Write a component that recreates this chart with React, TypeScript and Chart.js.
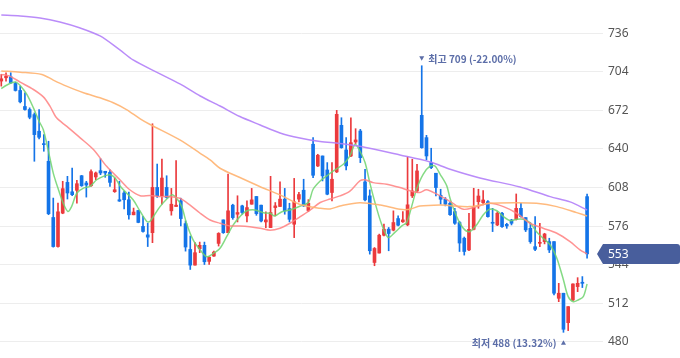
import React, { useEffect, useRef } from "react";
import { Chart, registerables } from "chart.js";
Chart.register(...registerables);

// OHLC per trading day (index 0..124)
const opens = [696.3,699,699.8,694.3,688.5,675.2,672.7,668.5,654.7,644.4,629.8,583.2,559.1,586.8,612.3,604.5,605.7,617.8,611.8,609.5,616.8,622,621.5,620.6,604.6,597.9,603.5,597.9,585.4,589,575.8,568.8,570.6,608.1,601.2,608.1,588.7,592.3,597,578.1,556.7,543.7,557.3,560.1,546.8,551.2,561.7,581.2,570.6,593.4,585.9,592.8,584.5,594.2,600.6,593.4,579.5,574.8,591.4,592.3,598.4,590.6,577.6,598.4,605.8,589,643.9,625.9,634.2,622.6,603.9,621,659.6,639.2,634.2,645.8,654.9,612.7,601.1,545.9,553.7,568.5,573.5,572.7,582.3,579.6,577.1,601.1,605.2,667.9,649.4,628.7,619.9,601.6,598.3,595,588.1,579,566,556.3,573.4,596.3,595.5,596.3,579,577,586.7,577.5,581.1,581.7,590.8,583.1,574.2,559,561.8,563.2,563.2,563.2,516.2,520.4,496,514.8,525.9,529.5,600.5];
const highs = [701.8,703.2,703.2,695.4,692.1,686.6,674.1,669.9,672.7,651.9,646.4,599.3,595.1,613.2,617.3,624.2,614,618.1,613.2,622.8,620.9,632,621.5,622.8,615.9,613.2,604.8,604.3,591,589.2,584.1,578.5,660.9,627.5,631.7,617.8,607.3,630.3,599.2,580.3,567.8,562.3,562.8,562.8,550.6,555.3,570.6,581.2,619.2,594.2,601.2,593.4,597,607.3,600.6,593.4,587.8,617.3,595.6,612.8,607.3,595,615.6,604,614.9,598,649.4,635.6,634.2,628.7,628.7,672,665.9,649.4,665.9,656.8,656.3,623.2,606.1,558.3,569.4,577.7,574.9,588.7,584.5,588.1,633.4,631.4,627.3,709,651.3,640.6,619.9,606.6,599.7,596,590.8,580,567,586.7,607.4,606.6,605.5,597.2,590.8,588,587.5,578.4,581.7,602.7,594.9,583.1,578.9,583.9,578.4,570.1,566,563.2,528.6,520.4,509.3,528.1,533.3,534.2,602.7];
const lows = [692.1,696.2,694.3,688,678.2,672.2,665,629.8,648.3,638.1,585.5,558.6,558.6,586.3,598.5,601.2,595.1,609,600.1,609,614.5,618.7,616.5,609,604,596.5,590.2,581.8,585.4,578.8,571,559.1,562.3,599.8,594.2,599.2,585.1,592.3,576.2,555.3,540.1,543.7,554,544.2,544.2,551,559.5,570,570.6,581.7,579.5,585.9,579.5,594.2,585,579.5,574.8,574.8,584.5,592.3,585.9,579.5,566.5,596,592.3,588,616.3,625.4,613.5,602,597,620.4,640.6,622.6,633.7,644.4,628.7,597,552.8,543.2,553.7,568,555.6,572.1,576.3,579,576.3,599.7,603.9,640.6,630.9,623.7,601.1,594.2,592.8,585,577.5,555,552,555.7,572.9,590.8,593.6,583.4,571.5,576.4,575,574.2,577,581.1,583.4,571.5,561.8,555.7,559,561.3,554.1,519,513.4,488,489.4,514.3,521.7,525.1,549.4];
const closes = [698.2,700.4,694.9,688.5,679.1,672.7,666.3,651.9,649.7,643.6,586.3,559.1,587.9,607.1,603.5,602.1,611.2,609.5,610.1,621.2,620.1,620.1,620.1,612.3,606.2,596.8,597.9,585.4,587.7,579.1,571.6,566.9,608.1,601.2,615.9,599.8,594.2,593.4,582.3,558.7,543.7,554,560.1,546.5,550.3,554.5,570,570.6,588.7,583.1,587.3,587.3,591.4,597.8,586.4,580.3,581.2,587.3,592.8,598.4,588.7,581.7,596.2,602.2,592.8,595,618.2,634.8,617.7,602.5,614.9,668.7,641.1,626,645.2,647.5,632.8,597.8,555.6,557.5,568.5,573.5,569.9,579,576.8,581.2,593.7,605.2,621.8,641.1,634.2,624.6,608,598.3,594.2,585.5,578.4,562,555,573.4,591.6,601,597.7,583.9,578.4,586.7,575.6,576.2,578.4,590.8,583.9,572.9,563.2,556.8,562.4,569.5,556.3,520.4,520.4,490.5,509.3,528.1,528.6,528.6,553];

// Moving averages: [day index, value]
const ma5 = [[0,690],[1,692.6],[2.2,694.9],[3.1,695.4],[4,692.6],[5.4,685.2],[6.8,674.1],[8,663],[8.9,656],[9.9,639.5],[11,620],[12.1,606.2],[13.1,595.1],[14.1,588.2],[14.9,592.4],[16,603.5],[17.4,607.6],[18.8,609],[20.2,614.5],[21.6,617.3],[23,618.7],[24.1,616],[25.1,609.5],[26.5,603.5],[27.9,597.9],[29.4,588.2],[30.8,579.9],[31.5,580],[33.6,592.2],[36.1,601.9],[37.1,599.1],[38.2,592.2],[39.2,578.4],[40.6,564.6],[42.1,556.3],[43.5,550.7],[44.9,553.5],[46.3,557.7],[47.7,567.3],[49.1,577],[50.5,583.9],[51.9,588.6],[53.7,589.4],[55.5,587.2],[56.9,586.7],[57.9,584.5],[59.4,588],[61.1,589.4],[63.2,592.5],[65,595.6],[66,606.6],[67.5,613.5],[68.9,617.7],[70.3,621.8],[72.4,627.3],[73.8,634.2],[74.9,643.9],[75.9,638.3],[77,628.7],[78,612.1],[79.1,595.6],[80.5,577.7],[81.9,566.6],[83.3,570.8],[84.8,576.3],[85.8,579],[86.9,592.8],[87.9,606.6],[89.3,619],[90.8,625.9],[91.8,625.9],[92.9,619],[94.3,609.4],[95,599],[96.4,583.9],[97.8,574.3],[99.1,571.4],[100.6,577],[102,585.3],[103.4,590],[104.9,588.8],[106.3,583.9],[107.7,580.6],[109.1,581.7],[110.5,581.7],[111.9,578.9],[113.3,571.4],[114.7,566],[116.2,560.4],[117.6,549.4],[119,531.4],[120,517.6],[121.1,513.4],[122.1,514.8],[123.2,517.6],[124,528]];
const ma20 = [[0,701.8],[1.8,700.4],[4,695.4],[6.8,689.3],[8.9,683.2],[10.3,675.5],[11.7,665.8],[13.8,658.9],[16.7,649.2],[19.5,639.5],[22.3,625.6],[25.1,614.5],[27.2,606.2],[29.4,601.2],[31.5,601.5],[33.6,600.5],[35.7,600.5],[37.8,599.1],[39.9,593.6],[42.1,586.7],[44.2,581.1],[46.3,578.4],[48.4,576.2],[50.5,576.2],[52.6,575.6],[54.8,574.3],[56.9,572.6],[59,574.3],[61.1,578.4],[63.2,583.6],[65.4,589.4],[67.5,595.6],[69.6,598.5],[71.7,601.1],[73.8,605],[75.9,613.5],[77,614.4],[78.7,612.1],[81.6,610.8],[84.4,608],[86.5,605.3],[88.6,603.9],[90,606.1],[92.2,602.5],[95,596.5],[97.8,590],[100.6,592.2],[103.4,595],[106.3,592.2],[109.1,586.7],[111.9,578.4],[114.7,574.3],[117.6,570.1],[120.4,563.1],[122.5,556.3],[124,553]];
const ma60 = [[0,704.6],[4,703.7],[8.6,701.8],[11,697.1],[13.8,692.1],[17.4,686.6],[20.9,682.4],[23.7,678.3],[26.5,672.7],[29.4,665],[31.5,660.3],[37.8,647.5],[42.1,636.4],[44.2,630.9],[46.3,624],[50.5,616.3],[54.8,608.7],[59,601.9],[63.2,594],[67.5,590.8],[69.6,590.3],[71.7,592.7],[75.9,595.5],[80.2,593.6],[84.4,590],[86.5,590],[88.6,592.7],[92.9,593.6],[95,593],[99.2,592.2],[103.4,595],[109.1,595.5],[113.3,595],[117.6,592.2],[121.8,587.2],[124,584.5]];
const ma120 = [[0,751.1],[4,750.3],[8.2,748.6],[12.4,745.3],[16.7,740.3],[20.9,733.7],[25.1,722.1],[27.9,713.8],[33.6,702.2],[37.8,693.9],[42.1,683.9],[46.3,675.6],[50.5,666.9],[54.8,659.9],[59,653.3],[63.2,649.1],[67.5,646.1],[71.7,644.6],[75.9,642.2],[84.4,635],[90.8,629.2],[95,623.2],[101.3,616],[109.8,608.5],[116.2,600.5],[120.4,596.1],[124,589.4]];

const yTicks = [480, 512, 544, 576, 608, 640, 672, 704, 736];
const highIndex = 89;
const highValue = 709;
const highLabel = "최고 709 (-22.00%)";
const lowIndex = 119;
const lowValue = 488;
const lowLabel = "최저 488 (13.32%)";
const lastPrice = 553;

const UP = "#eb3a3d";
const DOWN = "#1474e8";

export default function App() {
  const ref = useRef<HTMLCanvasElement | null>(null);
  useEffect(() => {
    if (!ref.current) return;
    const idx = opens.map((_, i) => i);
    const colors = idx.map((i) => (closes[i] >= opens[i] ? UP : DOWN));
    const line = (pts: number[][], color: string) => ({
      type: "line" as const,
      data: pts.map((p) => ({ x: p[0], y: p[1] })),
      borderColor: color,
      borderWidth: 1.5,
      pointRadius: 0,
      tension: 0.3,
      order: 0,
    });
    const annot = {
      id: "annot",
      afterDraw(chart: any) {
        const ctx = chart.ctx as CanvasRenderingContext2D;
        const xs = chart.scales.x;
        const ys = chart.scales.y;
        ctx.save();
        ctx.fillStyle = "#5c6ea8";
        ctx.font = '600 10px "Noto Sans CJK KR"';
        ctx.textBaseline = "middle";
        // high
        const hx = xs.getPixelForValue(highIndex);
        const hy = ys.getPixelForValue(highValue) - 6.5;
        ctx.beginPath();
        ctx.moveTo(hx - 2.5, hy - 3);
        ctx.lineTo(hx + 2.5, hy - 3);
        ctx.lineTo(hx, hy + 1.5);
        ctx.closePath();
        ctx.fill();
        ctx.textAlign = "left";
        ctx.fillText(highLabel, hx + 6.5, hy);
        // low
        const lx = xs.getPixelForValue(lowIndex);
        const ly = ys.getPixelForValue(lowValue) + 11;
        ctx.beginPath();
        ctx.moveTo(lx - 2.5, ly + 1.5);
        ctx.lineTo(lx + 2.5, ly + 1.5);
        ctx.lineTo(lx, ly - 3);
        ctx.closePath();
        ctx.fill();
        ctx.textAlign = "right";
        ctx.fillText(lowLabel, lx - 7, ly);
        // price tag
        const py = ys.getPixelForValue(lastPrice);
        const left = chart.chartArea.right - 6;
        const bodyL = chart.chartArea.right;
        const R = chart.width;
        ctx.fillStyle = "#485e9c";
        ctx.beginPath();
        ctx.moveTo(left, py);
        ctx.lineTo(bodyL, py - 10);
        ctx.lineTo(R - 3, py - 10);
        ctx.quadraticCurveTo(R, py - 10, R, py - 7);
        ctx.lineTo(R, py + 7);
        ctx.quadraticCurveTo(R, py + 10, R - 3, py + 10);
        ctx.lineTo(bodyL, py + 10);
        ctx.closePath();
        ctx.fill();
        ctx.fillStyle = "#ffffff";
        ctx.font = '12px "Noto Sans"';
        ctx.textAlign = "left";
        ctx.fillText(String(lastPrice), bodyL + 5, py + 0.5);
        ctx.restore();
      },
    };
    const chart = new Chart(ref.current, {
      type: "bar",
      data: {
        datasets: [
          line(ma120, "rgba(178,128,248,0.9)"),
          line(ma60, "rgba(255,178,112,0.9)"),
          line(ma20, "rgba(255,128,128,0.85)"),
          line(ma5, "rgba(110,212,110,0.85)"),
          {
            type: "bar",
            data: idx.map((i) => ({ x: i, y: [Math.min(opens[i], closes[i]), Math.max(opens[i], closes[i])] })) as any,
            backgroundColor: colors,
            barThickness: 3,
            minBarLength: 1,
            grouped: false,
            order: 1,
          },
          {
            type: "bar",
            data: idx.map((i) => ({ x: i, y: [lows[i], highs[i]] })) as any,
            backgroundColor: colors,
            barThickness: 1,
            grouped: false,
            order: 2,
          },
        ] as any,
      },
      options: {
        animation: false,
        responsive: true,
        maintainAspectRatio: false,
        layout: { padding: 0 },
        plugins: { legend: { display: false }, tooltip: { enabled: false } },
        events: [],
        scales: {
          x: {
            type: "linear",
            display: false,
            offset: false,
            bounds: "data",
            grid: { offset: false },
            min: -0.275,
            max: 127.37,
          },
          y: {
            position: "right",
            min: 466.7,
            max: 763.5,
            afterBuildTicks: (s: any) => {
              s.ticks = yTicks.map((v) => ({ value: v }));
            },
            afterFit: (s: any) => {
              s.width = 77;
              s.paddingTop = 0;
              s.paddingBottom = 0;
            },
            grid: { color: "#ededed", drawTicks: false },
            border: { display: false },
            ticks: {
              padding: 5,
              color: "#555555",
              font: { family: "Noto Sans", size: 12 },
            },
          },
        },
      },
      plugins: [annot],
    });
    return () => chart.destroy();
  }, []);
  return (
    <div style={{ position: "fixed", left: 0, top: 0, width: 680, height: 358, background: "#fff" }}>
      <canvas ref={ref} />
    </div>
  );
}
